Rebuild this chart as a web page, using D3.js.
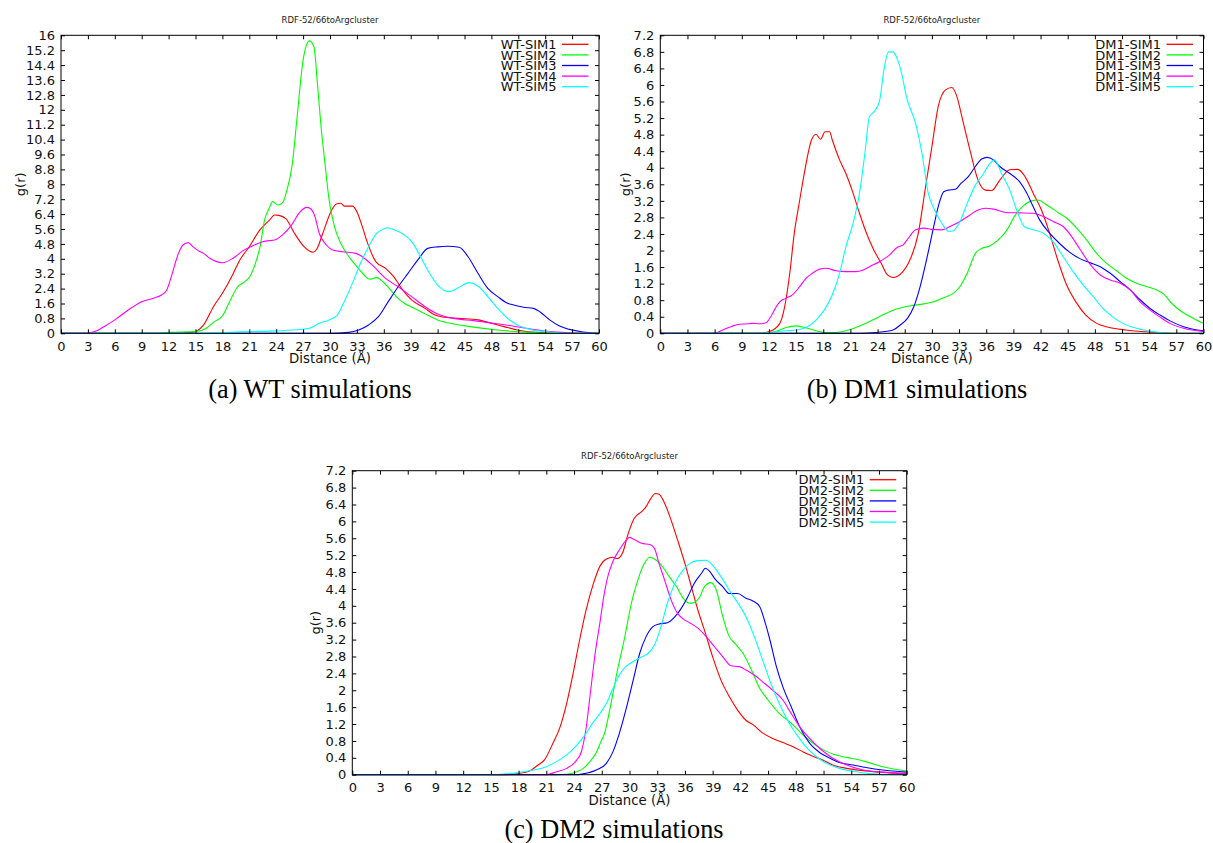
<!DOCTYPE html>
<html>
<head>
<meta charset="utf-8">
<script src="https://cdn.jsdelivr.net/npm/d3@7"></script>
<style>
  body { margin: 0; background: #fff; }
  svg { display: block; }
</style>
</head>
<body>
<svg id="fig" width="1213" height="843"></svg>
<script>
// ---- tick values ----
const xTickValues = [0, 3, 6, 9, 12, 15, 18, 21, 24, 27, 30, 33, 36, 39, 42, 45, 48, 51, 54, 57, 60];
const yTicksWT = [0, 0.8, 1.6, 2.4, 3.2, 4, 4.8, 5.6, 6.4, 7.2, 8, 8.8, 9.6, 10.4, 11.2, 12, 12.8, 13.6, 14.4, 15.2, 16];
const yTicksDM = [0, 0.4, 0.8, 1.2, 1.6, 2, 2.4, 2.8, 3.2, 3.6, 4, 4.4, 4.8, 5.2, 5.6, 6, 6.4, 6.8, 7.2];

const plotTitle = "RDF-52/66toArgcluster";
const xLabel = "Distance (Å)";
const yLabel = "g(r)";
const seriesColors = ["#ff0000", "#00ff00", "#0000ff", "#ff00ff", "#00ffff"];

// ---- WT simulations: [distance, g(r)] ----
const wtSim1 = [[0,0],[13,0],[14,0.03],[15,0.1],[15.9,0.45],[17,1.43],[18,2.15],[19.2,3.2],[19.9,3.9],[21,4.65],[22.1,5.5],[23.3,6.1],[23.8,6.35],[24.3,6.33],[25.1,6.14],[26,5.4],[27.1,4.65],[28.1,4.35],[28.5,4.5],[29.2,5.37],[30.1,6.53],[30.7,6.94],[31.2,6.98],[31.6,6.83],[32.5,6.83],[33,6.53],[33.6,5.73],[34.2,4.83],[35.1,3.85],[36.2,3.49],[37.1,3.04],[38.1,2.33],[39.1,1.79],[40.6,1.34],[41.7,0.98],[42.8,0.86],[44.3,0.8],[46.5,0.72],[48,0.54],[49.4,0.36],[50.9,0.18],[53.1,0.05],[56,0],[60,0]];
const wtSim2 = [[0,0],[11,0],[12,0.05],[15,0.09],[16.2,0.27],[17.1,0.63],[18,0.93],[18.8,1.7],[19.7,2.5],[20.5,2.77],[21.1,3.08],[21.8,3.94],[22.2,4.65],[22.7,6.08],[23.2,6.7],[23.6,7.07],[24.2,6.89],[24.7,7.0],[25.2,7.7],[25.8,9.1],[26.3,11.45],[27,14.67],[27.7,15.7],[28.2,15.4],[28.6,13.4],[29,11.1],[29.4,9.3],[29.9,7.16],[30.5,5.73],[31.2,4.83],[32.1,4.12],[33,3.58],[33.8,3.13],[34.4,2.9],[35.2,2.99],[35.9,2.77],[36.7,2.36],[37.6,1.88],[38.3,1.61],[39.4,1.34],[40.5,1.07],[42,0.72],[43.8,0.5],[45.6,0.36],[48.6,0.18],[52.3,0.05],[56,0],[60,0]];
const wtSim3 = [[0,0],[30,0],[32.1,0.05],[33.2,0.18],[34.3,0.45],[35.4,0.89],[36.5,1.7],[37.6,2.5],[38.7,3.22],[39.8,3.94],[40.9,4.56],[42,4.64],[43.1,4.67],[44.4,4.62],[45.4,4.11],[46.5,3.22],[47.6,2.41],[48.7,1.97],[49.8,1.61],[50.5,1.52],[51.6,1.4],[52.7,1.34],[53.4,1.16],[54.5,0.72],[55.6,0.39],[56.7,0.21],[58.2,0.07],[60,0]];
const wtSim4 = [[0,0],[3,0.02],[4,0.14],[5.1,0.45],[6,0.72],[7.5,1.25],[9,1.7],[10.3,1.88],[11.2,2.06],[11.8,2.33],[12.3,3.04],[13.1,4.29],[13.6,4.74],[14.2,4.87],[14.7,4.65],[15.3,4.44],[15.9,4.29],[16.6,4.03],[18,3.79],[19.2,4.03],[20.3,4.44],[21.4,4.7],[22.5,4.92],[24,5.04],[24.7,5.28],[25.7,5.81],[26.6,6.48],[27.4,6.76],[27.8,6.7],[28.3,6.3],[28.8,5.37],[29.6,4.74],[30.3,4.47],[31.4,4.38],[32.9,4.29],[33.6,4.11],[34.7,3.67],[36.2,2.95],[37.6,2.5],[39.1,1.97],[40.6,1.43],[42,1.04],[43.8,0.8],[46,0.68],[47.8,0.57],[49.6,0.45],[51.5,0.3],[53.7,0.14],[55.9,0.05],[58,0],[60,0]];
const wtSim5 = [[0,0],[15,0],[21,0.09],[24,0.13],[26.6,0.2],[27.7,0.27],[28.8,0.54],[29.9,0.72],[30.8,0.98],[31.5,1.61],[32.5,2.68],[33.4,3.76],[34.3,4.65],[35.2,5.37],[35.9,5.58],[36.4,5.67],[37.2,5.55],[38.3,5.28],[39.2,4.87],[40.1,4.11],[41.1,3.22],[42,2.59],[43.3,2.24],[44.4,2.47],[45.5,2.72],[46.5,2.54],[47.6,1.97],[48.7,1.34],[49.8,0.8],[50.9,0.45],[52.3,0.21],[54.5,0.07],[56.7,0],[60,0]];

// ---- DM1 simulations ----
const dm1Sim1 = [[0,0],[11,0],[12.05,0.04],[13.2,0.24],[13.7,0.6],[14.3,1.45],[14.8,2.42],[15.4,3.22],[15.9,3.86],[16.7,4.67],[17.2,4.81],[17.7,4.69],[18.2,4.87],[18.7,4.87],[19,4.67],[19.8,4.19],[20.5,3.86],[21.3,3.38],[22,2.9],[22.7,2.46],[23.5,2.05],[24.4,1.69],[25.1,1.41],[25.7,1.35],[26.2,1.38],[26.8,1.49],[27.4,1.69],[28.5,2.42],[29.3,3.54],[30,4.51],[30.7,5.48],[31.5,5.88],[32.2,5.94],[32.7,5.76],[33.4,5.15],[34.2,4.43],[35.1,3.7],[35.9,3.46],[36.6,3.45],[37.5,3.7],[38.6,3.95],[39.5,3.96],[40.3,3.78],[41.2,3.38],[42.1,2.98],[43,2.42],[43.9,1.77],[44.8,1.21],[45.9,0.76],[47,0.44],[48.2,0.24],[49.6,0.14],[51.4,0.08],[54.1,0.03],[57,0],[60,0]];
const dm1Sim2 = [[0,0],[11,0],[12,0.01],[13.2,0.08],[13.9,0.14],[15,0.18],[15.9,0.14],[17.2,0.06],[18.3,0.02],[19.4,0.02],[20.5,0.06],[21.6,0.14],[22.7,0.24],[23.8,0.36],[24.9,0.48],[26,0.58],[27.5,0.66],[29.1,0.71],[30.2,0.76],[31.3,0.86],[32.4,0.97],[33.1,1.13],[33.9,1.45],[34.8,1.93],[35.5,2.05],[36.4,2.11],[37.3,2.25],[38.3,2.5],[39.1,2.82],[40,3.06],[41,3.2],[41.7,3.22],[42.7,3.1],[43.8,2.94],[44.9,2.78],[46,2.54],[47.1,2.25],[48.2,1.93],[49.3,1.69],[50.4,1.51],[51.5,1.33],[52.6,1.21],[53.7,1.13],[54.8,1.05],[55.5,0.97],[56.5,0.72],[57.6,0.52],[58.9,0.36],[60,0.24]];
const dm1Sim3 = [[0,0],[22,0],[23.8,0.02],[25.7,0.08],[26.5,0.2],[27.3,0.36],[28,0.64],[28.7,1.13],[29.4,1.77],[30.2,2.58],[30.7,3.06],[31.3,3.42],[31.8,3.46],[32.6,3.48],[33.2,3.62],[34,3.78],[34.8,4.03],[35.5,4.21],[36.1,4.25],[36.8,4.19],[37.5,4.03],[38.6,3.86],[39.7,3.66],[40.4,3.42],[41.1,3.1],[41.9,2.74],[43,2.42],[44.1,2.17],[45.2,1.96],[46.3,1.81],[47.4,1.71],[48.6,1.61],[49.7,1.45],[50.8,1.25],[51.9,1.05],[53,0.81],[54.1,0.6],[55.2,0.44],[56.3,0.3],[57.8,0.16],[60,0.06]];
const dm1Sim4 = [[0,0],[6,0],[6.9,0.08],[7.8,0.16],[8.75,0.22],[9.7,0.23],[10.2,0.24],[10.95,0.23],[11.7,0.26],[12.2,0.4],[12.8,0.64],[13.2,0.76],[13.9,0.85],[14.6,0.93],[15.4,1.13],[16.1,1.33],[16.8,1.45],[17.6,1.55],[18.3,1.57],[19.4,1.51],[20.5,1.49],[21.6,1.49],[22.4,1.53],[23.1,1.61],[24.2,1.73],[25.3,1.89],[26.2,2.08],[26.8,2.13],[27.4,2.3],[28.2,2.5],[29.1,2.54],[30,2.51],[31.1,2.5],[32,2.58],[33.1,2.7],[34.2,2.86],[35.1,2.98],[35.9,3.02],[36.8,3.0],[38.2,2.92],[39.7,2.91],[41.2,2.9],[42.3,2.82],[43.4,2.7],[44.5,2.58],[45.3,2.38],[46.3,2.05],[47.4,1.69],[48.6,1.41],[49.7,1.29],[50.8,1.21],[51.9,1.05],[53,0.76],[54.1,0.56],[55.2,0.39],[56.3,0.24],[57.8,0.12],[60,0.04]];
const dm1Sim5 = [[0,0],[11,0],[12,0.02],[13.9,0.06],[15,0.08],[16.1,0.14],[17.2,0.32],[18.1,0.56],[19,0.93],[19.8,1.45],[20.5,2.09],[21.3,2.66],[22,3.38],[22.6,4.35],[23.1,5.23],[23.6,5.35],[24.2,5.6],[24.7,6.36],[25.2,6.8],[25.7,6.8],[26.1,6.67],[26.7,6.24],[27.2,5.7],[28.2,5.07],[28.9,4.35],[29.6,3.38],[30.3,2.98],[31.1,2.66],[31.9,2.46],[32.3,2.47],[33.1,2.7],[33.9,3.14],[34.8,3.58],[35.7,3.86],[36.3,4.07],[36.9,4.19],[37.7,3.86],[38.6,3.46],[39.5,2.9],[40.2,2.58],[41.2,2.5],[42.3,2.42],[43.4,2.21],[44.5,1.85],[45.6,1.49],[46.7,1.17],[47.8,0.89],[48.9,0.6],[50,0.39],[51.1,0.24],[52.6,0.12],[54.4,0.04],[56.5,0],[60,0]];

// ---- DM2 simulations ----
const dm2Sim1 = [[0,0],[16,0],[18,0.03],[19.2,0.09],[20.1,0.23],[20.8,0.35],[21.7,0.74],[22.5,1.14],[23.2,1.69],[23.9,2.4],[24.6,3.19],[25.3,3.9],[26.1,4.53],[26.8,4.94],[27.5,5.11],[28.2,5.15],[28.7,5.12],[29.3,5.28],[29.8,5.67],[30.5,6.07],[31.3,6.23],[31.8,6.35],[32.3,6.54],[32.8,6.66],[33.2,6.64],[33.8,6.43],[34.5,6.03],[35.2,5.56],[36,5.0],[36.7,4.45],[37.4,3.9],[38.1,3.43],[39,2.79],[39.9,2.24],[40.8,1.85],[41.7,1.53],[42.6,1.29],[43.4,1.18],[44.4,0.99],[45.5,0.86],[46.6,0.76],[47.7,0.66],[48.8,0.54],[49.9,0.43],[50.9,0.35],[52,0.23],[53.5,0.15],[55.6,0.09],[57.8,0.05],[60,0.03]];
const dm2Sim2 = [[0,0],[22,0],[23.2,0.01],[24.3,0.07],[25,0.15],[25.7,0.31],[26.4,0.52],[26.9,0.78],[27.3,0.98],[28,1.69],[28.7,2.48],[29.5,3.27],[30.2,4.06],[30.9,4.61],[31.6,5.0],[32.2,5.15],[32.9,5.08],[33.6,4.92],[34.3,4.69],[35.1,4.45],[35.8,4.18],[36.5,4.06],[37,4.08],[37.6,4.21],[38.1,4.45],[38.8,4.55],[39.4,4.37],[40.1,3.74],[40.8,3.27],[41.4,3.11],[42.3,2.87],[43.2,2.48],[44.1,2.04],[45,1.77],[46.2,1.45],[47.5,1.22],[48.8,0.94],[49.9,0.74],[50.9,0.6],[52,0.49],[53.5,0.41],[54.9,0.35],[56,0.28],[57.4,0.19],[58.7,0.13],[60,0.09]];
const dm2Sim3 = [[0,0],[24,0],[25,0.02],[26.4,0.11],[27.5,0.27],[28.2,0.54],[28.9,0.98],[29.6,1.53],[30.4,2.24],[31.1,2.87],[31.8,3.27],[32.5,3.5],[33.2,3.57],[34.1,3.6],[34.9,3.74],[35.6,3.94],[36.3,4.21],[37,4.53],[37.8,4.77],[38.2,4.89],[38.7,4.81],[39.2,4.65],[40.1,4.45],[40.8,4.29],[41.7,4.29],[42.6,4.18],[43.4,4.11],[44.1,3.98],[44.6,3.66],[45.2,3.19],[45.9,2.56],[46.6,2.08],[47.5,1.61],[48.4,1.14],[49.5,0.74],[50.6,0.52],[51.7,0.39],[52.7,0.29],[54.2,0.23],[55.6,0.17],[57.4,0.11],[60,0.06]];
const dm2Sim4 = [[0,0],[21,0],[22.1,0.07],[23.2,0.15],[24.3,0.35],[24.8,0.55],[25.3,1.1],[25.8,2.0],[26.3,2.9],[26.8,3.6],[27.2,4.2],[27.6,4.65],[28.2,5.05],[28.9,5.32],[29.5,5.52],[30,5.62],[30.5,5.57],[31.3,5.48],[32.2,5.45],[32.7,5.36],[33.2,5.0],[33.8,4.61],[34.5,4.14],[35.2,3.82],[35.8,3.69],[36.5,3.6],[37.4,3.47],[38.3,3.27],[39.2,3.03],[40.1,2.79],[41,2.58],[41.9,2.56],[42.6,2.48],[43.5,2.36],[44.4,2.2],[45.5,2.0],[46.6,1.77],[47.5,1.45],[48.4,1.14],[49.5,0.86],[50.6,0.62],[52,0.39],[53.5,0.23],[55.3,0.11],[57.4,0.06],[60,0.03]];
const dm2Sim5 = [[0,0],[15,0],[18,0.05],[19.6,0.11],[21,0.19],[22.1,0.31],[23.2,0.47],[24.3,0.7],[25.3,0.98],[26.1,1.25],[26.8,1.45],[27.5,1.69],[28.2,2.04],[28.9,2.36],[29.6,2.56],[30.4,2.68],[31.3,2.79],[32,2.87],[32.7,3.07],[33.4,3.5],[34.1,4.06],[34.9,4.53],[35.8,4.85],[36.5,5.0],[37.4,5.07],[38.3,5.08],[39,4.96],[39.9,4.69],[40.8,4.37],[41.5,4.14],[42.6,3.74],[43.5,3.27],[44.4,2.72],[45.3,2.16],[46.2,1.69],[47.1,1.29],[48,0.98],[49.1,0.66],[50.2,0.43],[51.3,0.27],[52.7,0.15],[54.5,0.07],[56.4,0.02],[58,0],[60,0]];

const wtNames  = ["WT-SIM1", "WT-SIM2", "WT-SIM3", "WT-SIM4", "WT-SIM5"];
const dm1Names = ["DM1-SIM1", "DM1-SIM2", "DM1-SIM3", "DM1-SIM4", "DM1-SIM5"];
const dm2Names = ["DM2-SIM1", "DM2-SIM2", "DM2-SIM3", "DM2-SIM4", "DM2-SIM5"];

// ---- panel layout ----
const panels = [
  { box: { l: 61, r: 599, t: 35.3, b: 333.3 }, yMax: 16, yTicks: yTicksWT,
    series: [wtSim1, wtSim2, wtSim3, wtSim4, wtSim5], names: wtNames,
    yLabelX: 20, caption: "(a) WT simulations", capX: 310, capY: 397.5 },
  { box: { l: 660.3, r: 1203.5, t: 35.3, b: 333.3 }, yMax: 7.2, yTicks: yTicksDM,
    series: [dm1Sim1, dm1Sim2, dm1Sim3, dm1Sim4, dm1Sim5], names: dm1Names,
    yLabelX: 625, caption: "(b) DM1 simulations", capX: 917, capY: 397.5 },
  { box: { l: 352.3, r: 906.7, t: 470.7, b: 774.7 }, yMax: 7.2, yTicks: yTicksDM,
    series: [dm2Sim1, dm2Sim2, dm2Sim3, dm2Sim4, dm2Sim5], names: dm2Names,
    yLabelX: 315, caption: "(c) DM2 simulations", capX: 614, capY: 837.5 }
];

const svg = d3.select("#fig");
const sans = "'DejaVu Sans', Verdana, sans-serif";
const serif = "'Liberation Serif', 'Times New Roman', serif";
const fmt = d => String(+d.toFixed(1));

panels.forEach(p => {
  const { l, r, t, b } = p.box;
  const x = d3.scaleLinear().domain([0, 60]).range([l, r]);
  const y = d3.scaleLinear().domain([0, p.yMax]).range([b, t]);
  const g = svg.append("g");

  // plot title
  g.append("text").attr("x", (l + r) / 2).attr("y", t - 12)
    .attr("text-anchor", "middle").attr("font-family", sans).attr("font-size", 8.5)
    .attr("fill", "#222").text(plotTitle);

  // curves
  const line = d3.line().x(d => x(d[0])).y(d => y(d[1])).curve(d3.curveMonotoneX);
  p.series.forEach((s, i) => {
    g.append("path").datum(s).attr("d", line)
      .attr("fill", "none").attr("stroke", seriesColors[i]).attr("stroke-width", 1.1);
  });

  // axes with inward ticks, mirrored on all four sides
  const tickLen = 4;
  const bottom = d3.axisBottom(x).tickValues(xTickValues).tickSizeInner(-tickLen).tickSizeOuter(0).tickPadding(8).tickFormat(fmt);
  const top = d3.axisTop(x).tickValues(xTickValues).tickSizeInner(-tickLen).tickSizeOuter(0).tickFormat("");
  const left = d3.axisLeft(y).tickValues(p.yTicks).tickSizeInner(-tickLen).tickSizeOuter(0).tickPadding(6).tickFormat(fmt);
  const right = d3.axisRight(y).tickValues(p.yTicks).tickSizeInner(-tickLen).tickSizeOuter(0).tickFormat("");

  const axes = [
    g.append("g").attr("transform", `translate(0,${b})`).call(bottom),
    g.append("g").attr("transform", `translate(0,${t})`).call(top),
    g.append("g").attr("transform", `translate(${l},0)`).call(left),
    g.append("g").attr("transform", `translate(${r},0)`).call(right)
  ];
  axes.forEach(a => {
    a.select(".domain").remove();
    a.selectAll(".tick line").attr("stroke", "#000").attr("stroke-width", 1);
    a.selectAll(".tick text").attr("font-family", sans).attr("font-size", 13).attr("fill", "#111");
  });

  // border
  g.append("rect").attr("x", l).attr("y", t).attr("width", r - l).attr("height", b - t)
    .attr("fill", "none").attr("stroke", "#000").attr("stroke-width", 1);

  // axis labels
  g.append("text").attr("x", (l + r) / 2).attr("y", b + 30)
    .attr("text-anchor", "middle").attr("font-family", sans).attr("font-size", 13.3)
    .attr("fill", "#111").text(xLabel);
  g.append("text").attr("transform", `translate(${p.yLabelX},${(t + b) / 2}) rotate(-90)`)
    .attr("text-anchor", "middle").attr("dy", "0.35em").attr("font-family", sans).attr("font-size", 13)
    .attr("fill", "#111").text(yLabel);

  // legend
  const rowStep = 10.6;
  p.names.forEach((name, i) => {
    const ry = t + 9 + i * rowStep;
    g.append("text").attr("x", r - 42.5).attr("y", ry).attr("dy", "0.36em")
      .attr("text-anchor", "end").attr("font-family", sans).attr("font-size", 13)
      .attr("fill", "#111").text(name);
    g.append("line").attr("x1", r - 37).attr("x2", r - 10.5).attr("y1", ry).attr("y2", ry)
      .attr("stroke", seriesColors[i]).attr("stroke-width", 1.3);
  });

  // caption
  svg.append("text").attr("x", p.capX).attr("y", p.capY)
    .attr("text-anchor", "middle").attr("font-family", serif).attr("font-size", 26.3)
    .attr("fill", "#000").text(p.caption);
});
</script>
</body>
</html>
